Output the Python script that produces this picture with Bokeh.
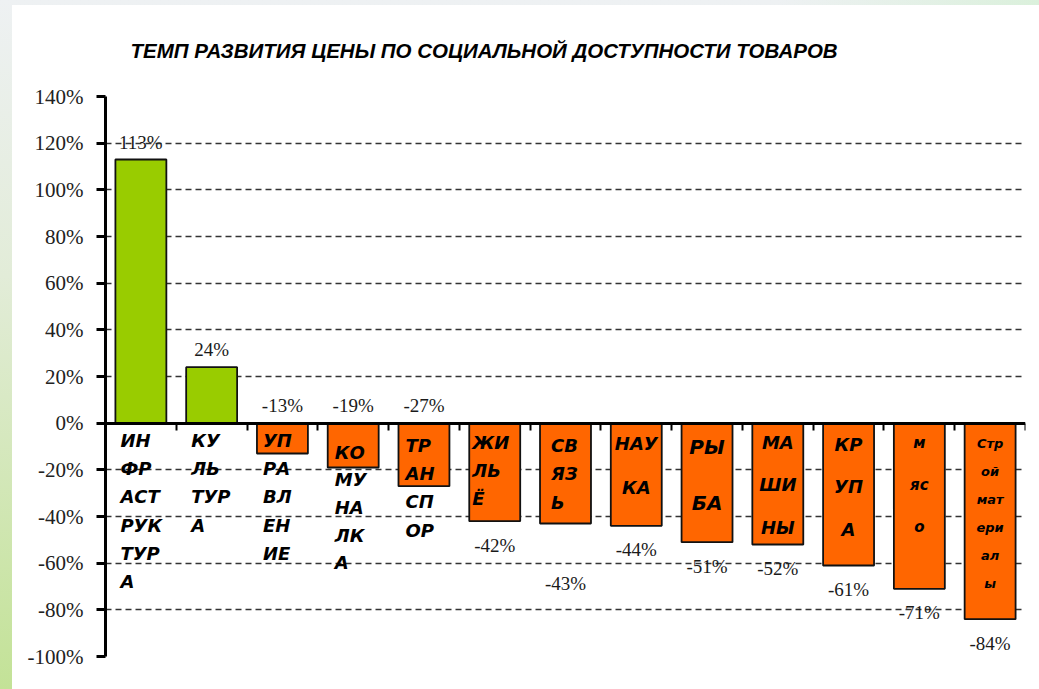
from bokeh.plotting import figure
from bokeh.models import FixedTicker, PrintfTickFormatter
from bokeh.embed import file_html
from bokeh.resources import INLINE
from bokeh.core.properties import value

# ---------------- data ----------------
categories = ["ИНФРАСТРУКТУРА", "КУЛЬТУРА", "УПРАВЛЕНИЕ", "КОМУНАЛКА", "ТРАНСПОРТ",
              "ЖИЛЬЁ", "СВЯЗЬ", "НАУКА", "РЫБА", "МАШИНЫ", "КРУПА", "мясо", "Строй материалы"]
values = [113, 24, -13, -19, -27, -42, -43, -44, -51, -52, -61, -71, -84]
label_lines = [
    ["ИН", "ФР", "АСТ", "РУК", "ТУР", "А"],
    ["КУ", "ЛЬ", "ТУР", "А"],
    ["УП", "РА", "ВЛ", "ЕН", "ИЕ"],
    ["КО", "МУ", "НА", "ЛК", "А"],
    ["ТР", "АН", "СП", "ОР"],
    ["ЖИ", "ЛЬ", "Ё"],
    ["СВ", "ЯЗ", "Ь"],
    ["НАУ", "КА"],
    ["РЫ", "БА"],
    ["МА", "ШИ", "НЫ"],
    ["КР", "УП", "А"],
    ["м", "яс", "о"],
    ["Стр", "ой", "мат", "ери", "ал", "ы"],
]
y_ticks = [-100, -80, -60, -40, -20, 0, 20, 40, 60, 80, 100, 120, 140]
title = "ТЕМП РАЗВИТИЯ ЦЕНЫ ПО СОЦИАЛЬНОЙ ДОСТУПНОСТИ ТОВАРОВ"

# ---------------- layout / style ----------------
W, H = 1039, 689
TOP, BOTTOM, LEFT, RIGHT = 96, 33, 105, 14
Y0, Y1 = -100, 140
n = len(categories)
PXY = (H - TOP - BOTTOM) / (Y1 - Y0)      # px per percent
PXX = (W - LEFT - RIGHT) / n              # px per category
BAR_W = 0.72
LABEL_FONT = "DejaVu Sans"

# per-category label layout: (first line offset px, line step px, font px, align, left pad px)
label_style = [
    (17, 28.3, 18, "left", 5), (17, 28.3, 18, "left", 5), (17, 28.3, 18, "left", 6),
    (29, 27.7, 18, "left", 7), (22, 28.3, 18, "left", 7), (19, 28, 18, "left", 3),
    (22, 28.5, 18, "left", 11), (20, 44, 18, "center", 0), (24, 56, 20, "center", 0),
    (19, 42.5, 18, "center", 0), (21, 42.5, 18, "center", 0), (20, 42, 15, "center", 0),
    (20, 28, 13, "center", 0),
]
# extra downward shift (px) of individual value labels placed under the bars
value_label_extra = {6: 36}

p = figure(width=W, height=H, x_range=(0, n), y_range=(Y0, Y1),
           output_backend="svg", toolbar_location=None,
           min_border_top=TOP, min_border_bottom=BOTTOM,
           min_border_left=LEFT, min_border_right=RIGHT,
           background_fill_color="white", border_fill_color=None,
           outline_line_color=None)
p.styles = {
    "background": "linear-gradient(#ffffff, #ffffff) 12px 5px / calc(100% - 12px) calc(100% - 5px) no-repeat, "
                  "linear-gradient(90deg, rgba(255,255,255,0) 0%, rgba(255,255,255,0) 75%, rgba(214,240,214,0.8) 100%), "
                  "linear-gradient(180deg, #eef1f3 0%, #e2ecd8 40%, #c3e297 100%)"
}

# title
p.title.text = title
p.title.align = "left"
p.title.offset = 25
p.title.standoff = 70
p.title.text_font = "Liberation Sans"
p.title.text_font_style = "bold italic"
p.title.text_font_size = "20.5px"
p.title.text_color = "#000000"

# grid
p.xgrid.visible = False
p.ygrid.ticker = FixedTicker(ticks=y_ticks)
p.ygrid.grid_line_color = "#333333"
p.ygrid.grid_line_dash = "6 4"
p.ygrid.grid_line_width = 1.4

# y axis
yax = p.yaxis[0]
yax.ticker = FixedTicker(ticks=y_ticks)
yax.formatter = PrintfTickFormatter(format="%d%%")
yax.major_label_text_font = "Liberation Serif"
yax.major_label_text_font_size = "21px"
yax.major_label_text_color = "#222222"
yax.axis_line_width = 3
yax.axis_line_color = "black"
yax.major_tick_out = 9
yax.major_tick_in = 0
yax.major_tick_line_width = 3
yax.major_tick_line_color = "black"
yax.minor_tick_out = 0
yax.minor_tick_in = 0
yax.major_label_standoff = 13

# x axis drawn at zero (ticks between categories, no labels)
xticks = list(range(1, n + 1))
xax = p.xaxis[0]
xax.fixed_location = 0
xax.ticker = FixedTicker(ticks=xticks)
xax.major_label_overrides = {t: "" for t in xticks}
xax.axis_line_width = 3
xax.axis_line_color = "black"
xax.major_tick_out = 7
xax.major_tick_in = 0
xax.major_tick_line_width = 2
xax.major_tick_line_color = "black"
xax.minor_tick_out = 0
xax.minor_tick_in = 0

# bars
xs = [i + 0.5 for i in range(n)]
colors = ["#99cc00" if v >= 0 else "#ff6600" for v in values]
p.vbar(x=xs, top=values, bottom=0, width=BAR_W, fill_color=colors,
       line_color="#111111", line_width=1.8)

# value labels
lab_y = []
for i, v in enumerate(values):
    if v > -30:
        lab_y.append(max(v, 0) + 17.5 / PXY)
    else:
        lab_y.append(v - (24 + value_label_extra.get(i, 0)) / PXY)
p.text(x=xs, y=lab_y, text=[f"{v}%" for v in values],
       text_align="center", text_baseline="middle",
       text_font=value("Liberation Serif"), text_font_size="19px",
       text_color="#1a1a1a")

# category labels (wrapped, bold italic)
for i, lines in enumerate(label_lines):
    first, step, fs, align, pad = label_style[i]
    ys = [-(first + k * step) / PXY for k in range(len(lines))]
    if align == "left":
        x0 = i + 0.5 - BAR_W / 2 + pad / PXX
    else:
        x0 = i + 0.5
    p.text(x=[x0] * len(lines), y=ys, text=lines,
           text_align=align, text_baseline="middle",
           text_font=value(LABEL_FONT), text_font_style="bold italic",
           text_font_size=f"{fs}px", text_color="#000000")

open("out.html", "w").write(file_html(p, INLINE))
